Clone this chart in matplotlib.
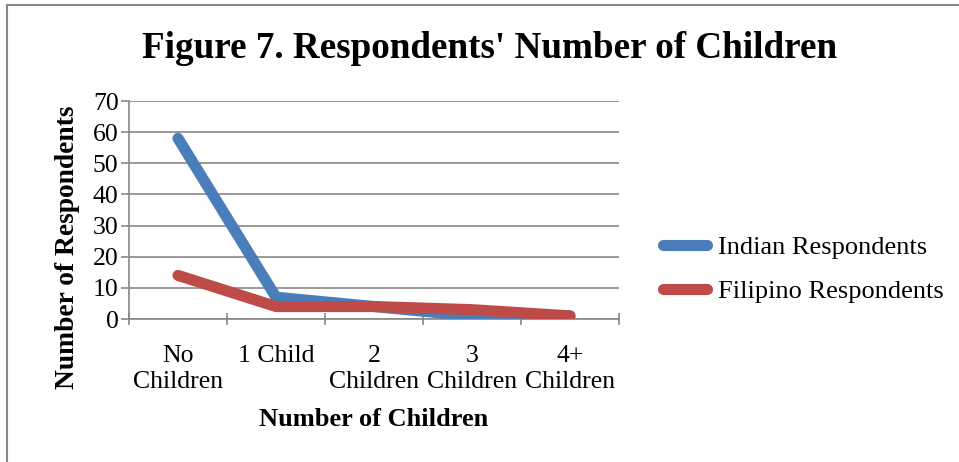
import matplotlib
matplotlib.use("Agg")
import matplotlib.pyplot as plt
from matplotlib.lines import Line2D

categories = ["No\nChildren", "1 Child", "2\nChildren", "3\nChildren", "4+\nChildren"]
indian = [58, 7, 4, 1, 1]
filipino = [14, 4, 4, 3, 1]
series_names = ["Indian Respondents", "Filipino Respondents"]
yticks = [0, 10, 20, 30, 40, 50, 60, 70]

plt.rcParams['font.family'] = ['Liberation Serif', 'DejaVu Serif']

W, H = 959, 462
fig = plt.figure(figsize=(W / 100, H / 100), dpi=100)
ax = fig.add_axes([129 / W, 1 - 319 / H, (619 - 129) / W, (319 - 101) / H])

blue = "#4A7EBB"
red = "#BE4B48"
grid_c = "#878787"
fs = 18.5

x = list(range(len(categories)))
ax.plot(x, indian, color=blue, lw=8, solid_capstyle='round', solid_joinstyle='round',
        label=series_names[0], zorder=3)
ax.plot(x, filipino, color=red, lw=8, solid_capstyle='round', solid_joinstyle='round',
        label=series_names[1], zorder=4)

ax.set_xlim(-0.5, len(categories) - 0.5)
ax.set_ylim(0, 70)
ax.set_yticks(yticks)
ax.set_yticklabels([str(v) for v in yticks], fontsize=fs)
ax.yaxis.grid(True, color=grid_c, lw=1.2)
ax.set_axisbelow(True)

ax.set_xticks([i - 0.5 for i in range(len(categories) + 1)])
ax.set_xticklabels([])
ax.set_xticks(x, minor=True)
ax.set_xticklabels(categories, minor=True, fontsize=fs, linespacing=1.2)
ax.tick_params(axis='x', which='minor', length=0, pad=19)
ax.tick_params(axis='x', which='major', length=8, width=1.2, color=grid_c, direction='inout')
ax.tick_params(axis='y', which='major', length=6, width=1.2, color=grid_c, direction='out', pad=1.5)

for s in ['top', 'right']:
    ax.spines[s].set_visible(False)
for s in ['left', 'bottom']:
    ax.spines[s].set_color(grid_c)
    ax.spines[s].set_linewidth(1.2)

ax.set_ylabel("Number of Respondents", fontsize=19.8, fontweight='bold', labelpad=9,
              y=(319 - 247) / 218)
ax.set_xlabel("Number of Children", fontsize=19, fontweight='bold', labelpad=11)

fig.text(490 / W, 1 - 49 / H, "Figure 7. Respondents' Number of Children",
         ha='center', va='center', fontsize=26.7, fontweight='bold')

leg = fig.legend(loc='upper left', bbox_to_anchor=(662.5 / W, 1 - 236 / H), frameon=False,
                 fontsize=19, handlelength=1.7, handletextpad=0.4, labelspacing=0.75,
                 borderpad=0, borderaxespad=0)

# chart border
fig.add_artist(Line2D([7 / W, 1], [1 - 5 / H, 1 - 5 / H], color=grid_c, lw=1.5,
                      transform=fig.transFigure))
fig.add_artist(Line2D([7 / W, 7 / W], [0, 1 - 5 / H], color=grid_c, lw=1.5,
                      transform=fig.transFigure))

fig.savefig("out.png", dpi=100)
